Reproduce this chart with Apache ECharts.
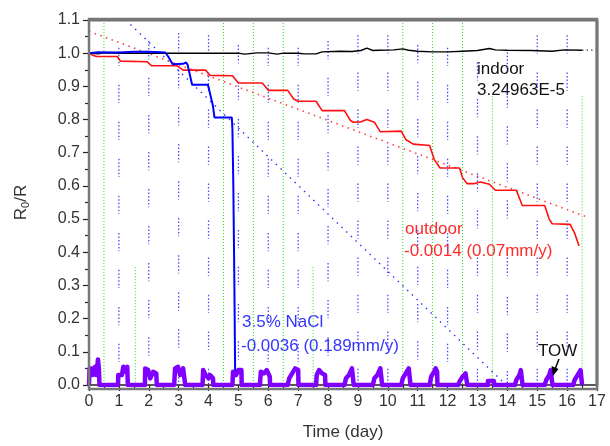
<!DOCTYPE html>
<html><head><meta charset="utf-8">
<script src="https://cdn.jsdelivr.net/npm/echarts@6/dist/echarts.min.js"></script>
<style>html,body{margin:0;padding:0;background:#fff}#c{width:610px;height:446px;position:relative}
#frame{position:absolute;left:89px;top:19px;width:507px;height:369px;border-top:2px solid #777;border-right:2px solid #777;pointer-events:none;box-sizing:content-box}</style>
</head><body><div id="c"></div><script>
// ---- data ----
const indoor = [[0,1.000],[0.3,0.998],[0.5,1.001],[1.0,1.000],[2.0,1.000],[3.0,1.000],[4.0,1.000],[5.0,1.000],[5.2,0.997],[5.3,0.998],[5.6,1.001],[6.0,1.001],[6.3,0.997],[6.5,1.000],[7.0,1.000],[7.2,0.998],[7.6,0.998],[7.8,1.004],[8.4,1.006],[8.8,1.005],[9.1,1.008],[9.3,1.015],[9.5,1.008],[9.7,1.009],[10.2,1.010],[10.5,1.013],[10.7,1.009],[11.0,1.006],[11.5,1.004],[12.0,1.004],[12.5,1.006],[13.0,1.008],[13.4,1.014],[13.6,1.010],[14.0,1.009],[14.8,1.008],[15.5,1.006],[15.9,1.010],[16.5,1.009]];
const indoorTrend = [[16.5,1.009],[17.0,1.009]];
const outdoor = [[0,1.000],[0.15,0.993],[0.25,0.990],[0.95,0.990],[1.05,0.976],[1.95,0.974],[2.1,0.962],[2.95,0.962],[3.15,0.949],[3.9,0.949],[4.05,0.933],[4.8,0.932],[5.0,0.910],[5.8,0.910],[6.0,0.888],[6.65,0.888],[6.85,0.862],[7.0,0.855],[7.6,0.855],[7.8,0.827],[8.55,0.827],[8.75,0.797],[8.85,0.792],[9.1,0.793],[9.3,0.800],[9.55,0.792],[9.75,0.763],[10.45,0.765],[10.6,0.740],[10.85,0.726],[11.4,0.722],[11.55,0.680],[11.75,0.654],[12.4,0.654],[12.5,0.625],[12.65,0.607],[12.9,0.607],[13.1,0.612],[13.4,0.605],[13.6,0.587],[14.3,0.587],[14.5,0.541],[15.25,0.541],[15.4,0.500],[15.5,0.486],[16.1,0.484],[16.25,0.458],[16.4,0.419]];
const outdoorTrend = [[0,1.066],[16.7,0.505]];
const nacl = [[0,1.000],[0.3,1.003],[1.0,1.002],[1.5,1.004],[2.0,1.004],[2.55,1.002],[2.65,0.990],[2.8,0.967],[3.15,0.968],[3.25,0.972],[3.3,0.965],[3.45,0.905],[3.98,0.905],[4.1,0.860],[4.15,0.840],[4.2,0.806],[4.78,0.806],[4.8,0.770],[4.83,0.600],[4.86,0.350],[4.88,0.150],[4.89,0.040]];
const naclTrend = [[1.23,1.1],[13.96,0.0]];
const tow = [[0,0],[0.02,0.05],[0.1,0.05],[0.12,0.03],[0.2,0.055],[0.25,0.03],[0.3,0.077],[0.33,0.05],[0.35,0],
 [0.97,0],[0.98,0.03],[1.1,0.03],[1.15,0.055],[1.2,0.04],[1.28,0.055],[1.3,0],
 [1.87,0],[1.88,0.05],[1.98,0.045],[2.05,0.02],[2.15,0.04],[2.25,0.035],[2.27,0],
 [2.85,0],[2.88,0.05],[2.98,0.055],[3.05,0.03],[3.15,0.05],[3.2,0.045],[3.22,0],
 [3.8,0],[3.82,0.045],[3.9,0.03],[4.0,0.02],[4.05,0.03],[4.15,0.02],[4.16,0],
 [4.8,0],[4.82,0.04],[4.92,0.03],[5.0,0.045],[5.1,0.045],[5.11,0],
 [5.72,0],[5.75,0.04],[5.85,0.035],[5.95,0.045],[6.05,0.025],[6.06,0],
 [6.65,0],[6.7,0.02],[6.8,0.035],[6.9,0.05],[7.0,0.045],[7.01,0],
 [7.6,0],[7.62,0.03],[7.7,0.045],[7.8,0.035],[7.9,0.03],[7.91,0],
 [8.55,0],[8.6,0.02],[8.7,0.03],[8.8,0.05],[8.85,0.045],[8.86,0],
 [9.5,0],[9.55,0.02],[9.65,0.03],[9.75,0.05],[9.8,0.045],[9.81,0],
 [10.45,0],[10.5,0.02],[10.6,0.035],[10.7,0.05],[10.75,0.045],[10.76,0],
 [11.4,0],[11.45,0.025],[11.55,0.04],[11.6,0.05],[11.65,0.04],[11.66,0],
 [12.35,0],[12.4,0.01],[12.5,0.025],[12.6,0.035],[12.65,0.03],[12.66,0],
 [13.35,0],[13.35,0.012],[13.55,0.012],[13.56,0],
 [14.25,0],[14.3,0.015],[14.4,0.03],[14.45,0.045],[14.5,0.04],[14.51,0],
 [15.25,0],[15.3,0.015],[15.4,0.03],[15.45,0.045],[15.5,0.04],[15.51,0],
 [16.2,0],[16.25,0.015],[16.35,0.03],[16.45,0.045],[16.5,0.04],[16.5,0]];
// green dotted wet/dry markers: day and top value
const greenDays = [0.5,1.55,4.5,5.5,6.5,7.5,10.5,11.5,12.5,13.5,16.5];
const greenTops = [1.1,0.355,1.1,1.1,1.1,0.355,1.1,1.1,1.1,0.87,0.87];
// blue dotted short vertical dashes: day and top values of each dash
const dashDays = [1,2,3,4,5,6,7,8,9,10,11,12,13,14,15,16];
const dashTops = [
 [1.016,0.905,0.793,0.682,0.570,0.458,0.347,0.235,0.124],
 [1.037,0.926,0.814,0.702,0.591,0.479,0.368,0.256,0.144],
 [1.061,0.949,0.837,0.726,0.614,0.503,0.391,0.279,0.168,0.056],
 [1.054,0.942,0.830,0.719,0.607,0.496,0.384,0.272,0.161,0.049],
 [1.025,0.914,0.802,0.690,0.579,0.467,0.356,0.244,0.132],
 [1.016,0.905,0.793,0.682,0.570,0.458,0.347,0.235,0.124],
 [1.016,0.905,0.793,0.682,0.570,0.458,0.347,0.235,0.124],
 [1.037,0.926,0.814,0.702,0.591,0.479,0.368,0.256,0.144],
 [1.054,0.942,0.830,0.719,0.607,0.496,0.384,0.272,0.161,0.049],
 [1.054,0.942,0.830,0.719,0.607,0.496,0.384,0.272,0.161,0.049],
 [1.025,0.914,0.802,0.690,0.579,0.467,0.356,0.244,0.132],
 [1.016,0.905,0.793,0.682,0.570,0.458,0.347,0.235,0.124],
 [0.973,0.862,0.750,0.638,0.527,0.384,0.272,0.161,0.049],
 [1.003,0.891,0.780,0.668,0.557,0.384,0.265,0.155,0.042],
 [1.054,0.942,0.830,0.719,0.607,0.496,0.384,0.272,0.161,0.049],
 [1.054,0.942,0.830,0.719,0.607,0.496,0.384,0.272,0.161,0.049]];
const dashLen = 0.055;
const xRange = [0,17];
const yRange = [0,1.1];

// ---- build ----
const greenData = [];
greenDays.forEach((d,i)=>{ greenData.push([d,greenTops[i]],[d,0],[d,'-']); });
const dashData = [];
dashDays.forEach((d,i)=>{ dashTops[i].forEach(t=>{ dashData.push([d,t],[d,Math.max(0,t-dashLen)],[d,'-']); }); });
const frameData = [[xRange[0],yRange[1]],[xRange[1],yRange[1]],[xRange[1],yRange[0]]];

const FONT = 'Liberation Sans, Arial, sans-serif';
const chart = echarts.init(document.getElementById('c'));
chart.setOption({
  animation:false,
  backgroundColor:'#fff',
  grid:{left:89,right:13,top:20,bottom:57,show:true,borderWidth:0,backgroundColor:'rgba(0,0,0,0)'},
  xAxis:{type:'value',min:xRange[0],max:xRange[1],interval:1,
    axisLine:{onZero:false,lineStyle:{color:'#222',width:1.5}},
    axisTick:{inside:false,length:6,lineStyle:{color:'#222',width:1.2}},
    minorTick:{show:true,splitNumber:2,length:4,lineStyle:{color:'#222',width:1.2}},
    axisLabel:{fontFamily:FONT,fontSize:16,color:'#333',margin:9},
    splitLine:{show:false},
    name:'Time (day)',nameLocation:'middle',nameGap:39,
    nameTextStyle:{fontFamily:FONT,fontSize:17,color:'#333'}},
  yAxis:{type:'value',min:yRange[0],max:yRange[1],interval:0.1,
    axisLine:{onZero:false,lineStyle:{color:'#222',width:1.5}},
    axisTick:{inside:false,length:6,lineStyle:{color:'#222',width:1.2}},
    minorTick:{show:true,splitNumber:2,length:4,lineStyle:{color:'#222',width:1.2}},
    axisLabel:{fontFamily:FONT,fontSize:16,color:'#333',margin:9,formatter:v=>v.toFixed(1)},
    splitLine:{show:false},
    name:'{a|R}{b|0}{a|/R}',nameLocation:'middle',nameGap:58,nameRotate:90,
    nameTextStyle:{fontFamily:FONT,fontSize:17,color:'#333',
      rich:{a:{fontFamily:FONT,fontSize:17,color:'#333'},b:{fontFamily:FONT,fontSize:11,color:'#333',verticalAlign:'bottom',padding:[8,0,0,0]}}}},
  series:[
    {type:'line',name:'frame',data:frameData,showSymbol:false,silent:true,clip:false,z:20,
      lineStyle:{color:'#707070',width:3}},
    {type:'line',name:'green',data:greenData,showSymbol:false,silent:true,z:1,
      lineStyle:{color:'#22dd22',width:1,type:[1,2]}},
    {type:'line',name:'dash',data:dashData,showSymbol:false,silent:true,z:1,
      lineStyle:{color:'#4848ff',width:1.3,type:[1.5,2]}},
    {type:'line',name:'naclTrend',data:naclTrend,showSymbol:false,silent:true,z:2,
      lineStyle:{color:'#3030ff',width:1.4,type:[1.5,5]}},
    {type:'line',name:'outdoorTrend',data:outdoorTrend,showSymbol:false,silent:true,z:2,
      lineStyle:{color:'#ff4040',width:1.6,type:[1.5,4.5]}},
    {type:'line',name:'indoorTrend',data:indoorTrend,showSymbol:false,silent:true,z:2,
      lineStyle:{color:'#444',width:1.2,type:[1.5,3]}},
    {type:'line',name:'indoor',data:indoor,showSymbol:false,z:3,
      lineStyle:{color:'#000',width:1.4}},
    {type:'line',name:'outdoor',data:outdoor,showSymbol:false,z:4,
      lineStyle:{color:'#ff1010',width:1.6}},
    {type:'line',name:'nacl',data:nacl,showSymbol:false,z:5,
      lineStyle:{color:'#0000ff',width:2}},
    {type:'line',name:'TOW',data:tow,showSymbol:false,z:6,
      lineStyle:{color:'#8000ff',width:4.5,join:'round'}}
  ],
  graphic:[
    {type:'rect',shape:{x:89,y:19,width:508,height:370},style:{fill:'none',stroke:'#777',lineWidth:2.5},z:30,silent:true},
    {type:'text',left:477,top:61,style:{text:'indoor',font:'17px '+FONT,fill:'#111'}},
    {type:'text',left:477,top:82,style:{text:'3.24963E-5',font:'17px '+FONT,fill:'#111'}},
    {type:'text',left:405,top:221,style:{text:'outdoor',font:'17px '+FONT,fill:'#ff2a2a'}},
    {type:'text',left:404,top:243,style:{text:'-0.0014 (0.07mm/y)',font:'17px '+FONT,fill:'#ff2a2a'}},
    {type:'text',left:242,top:314,style:{text:'3.5% NaCl',font:'17px '+FONT,fill:'#3535ff'}},
    {type:'text',left:241,top:338,style:{text:'-0.0036 (0.189mm/y)',font:'17px '+FONT,fill:'#3535ff'}},
    {type:'text',left:538,top:343,style:{text:'TOW',font:'17px '+FONT,fill:'#111'}},
    {type:'line',shape:{x1:559,y1:359,x2:555.5,y2:368},style:{stroke:'#000',lineWidth:1.5},z:10},
    {type:'polygon',shape:{points:[[551.5,366],[558.5,369],[553,376]]},style:{fill:'#000'},z:10}
  ]
});
</script></body></html>
